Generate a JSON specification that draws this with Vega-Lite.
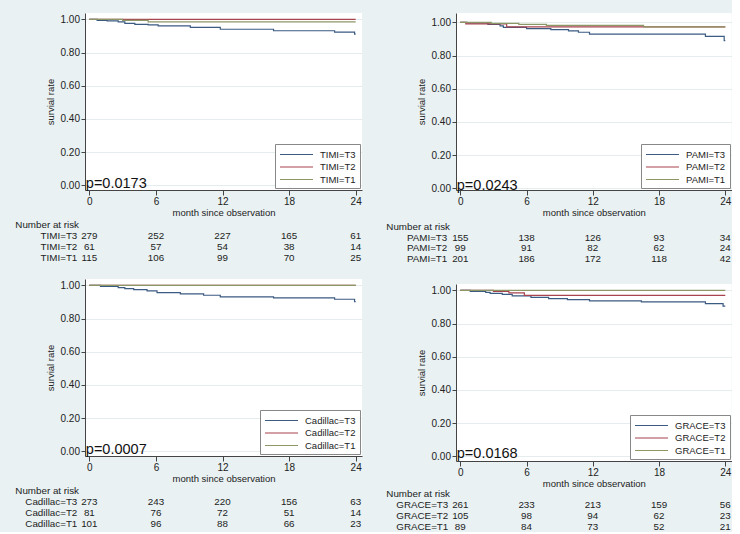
{
  "$schema": "https://vega.github.io/schema/vega-lite/v6.json",
  "background": "#e9f1f2",
  "padding": {"left": 15, "top": 13, "right": 0, "bottom": 0},
  "autosize": {"type": "pad"},
  "datasets": {
    "timi": [
      {"g": "TIMI=T3", "t": 0, "s": 1.0}, {"g": "TIMI=T3", "t": 0.7, "s": 0.994}, {"g": "TIMI=T3", "t": 1.6, "s": 0.99},
      {"g": "TIMI=T3", "t": 2.6, "s": 0.984}, {"g": "TIMI=T3", "t": 3.2, "s": 0.976}, {"g": "TIMI=T3", "t": 4.1, "s": 0.97},
      {"g": "TIMI=T3", "t": 5.3, "s": 0.966}, {"g": "TIMI=T3", "t": 6.2, "s": 0.96}, {"g": "TIMI=T3", "t": 9.1, "s": 0.952},
      {"g": "TIMI=T3", "t": 11.8, "s": 0.94}, {"g": "TIMI=T3", "t": 16.6, "s": 0.931}, {"g": "TIMI=T3", "t": 22.1, "s": 0.923},
      {"g": "TIMI=T3", "t": 23.9, "s": 0.911}, {"g": "TIMI=T3", "t": 24, "s": 0.911},
      {"g": "TIMI=T2", "t": 0, "s": 1.0}, {"g": "TIMI=T2", "t": 24, "s": 1.0},
      {"g": "TIMI=T1", "t": 0, "s": 1.0}, {"g": "TIMI=T1", "t": 3.0, "s": 0.993}, {"g": "TIMI=T1", "t": 5.3, "s": 0.984}, {"g": "TIMI=T1", "t": 24, "s": 0.984}
    ],
    "timi_risk": [
      {"g": "TIMI=T3", "t": 0, "n": 279}, {"g": "TIMI=T3", "t": 6, "n": 252}, {"g": "TIMI=T3", "t": 12, "n": 227}, {"g": "TIMI=T3", "t": 18, "n": 165}, {"g": "TIMI=T3", "t": 24, "n": 61},
      {"g": "TIMI=T2", "t": 0, "n": 61}, {"g": "TIMI=T2", "t": 6, "n": 57}, {"g": "TIMI=T2", "t": 12, "n": 54}, {"g": "TIMI=T2", "t": 18, "n": 38}, {"g": "TIMI=T2", "t": 24, "n": 14},
      {"g": "TIMI=T1", "t": 0, "n": 115}, {"g": "TIMI=T1", "t": 6, "n": 106}, {"g": "TIMI=T1", "t": 12, "n": 99}, {"g": "TIMI=T1", "t": 18, "n": 70}, {"g": "TIMI=T1", "t": 24, "n": 25}
    ],
    "pami": [
      {"g": "PAMI=T3", "t": 0, "s": 1.0}, {"g": "PAMI=T3", "t": 0.6, "s": 0.996}, {"g": "PAMI=T3", "t": 2.5, "s": 0.988},
      {"g": "PAMI=T3", "t": 3.6, "s": 0.978}, {"g": "PAMI=T3", "t": 3.9, "s": 0.97}, {"g": "PAMI=T3", "t": 6.0, "s": 0.962},
      {"g": "PAMI=T3", "t": 8.2, "s": 0.956}, {"g": "PAMI=T3", "t": 9.8, "s": 0.948}, {"g": "PAMI=T3", "t": 10.7, "s": 0.94},
      {"g": "PAMI=T3", "t": 11.7, "s": 0.929}, {"g": "PAMI=T3", "t": 22.2, "s": 0.915}, {"g": "PAMI=T3", "t": 23.9, "s": 0.89},
      {"g": "PAMI=T3", "t": 24, "s": 0.89},
      {"g": "PAMI=T2", "t": 0, "s": 1.0}, {"g": "PAMI=T2", "t": 0.5, "s": 0.99}, {"g": "PAMI=T2", "t": 4.2, "s": 0.973}, {"g": "PAMI=T2", "t": 24, "s": 0.973},
      {"g": "PAMI=T1", "t": 0, "s": 1.0}, {"g": "PAMI=T1", "t": 2.8, "s": 0.993}, {"g": "PAMI=T1", "t": 5.3, "s": 0.987},
      {"g": "PAMI=T1", "t": 7.8, "s": 0.982}, {"g": "PAMI=T1", "t": 16.6, "s": 0.972}, {"g": "PAMI=T1", "t": 24, "s": 0.972}
    ],
    "pami_risk": [
      {"g": "PAMI=T3", "t": 0, "n": 155}, {"g": "PAMI=T3", "t": 6, "n": 138}, {"g": "PAMI=T3", "t": 12, "n": 126}, {"g": "PAMI=T3", "t": 18, "n": 93}, {"g": "PAMI=T3", "t": 24, "n": 34},
      {"g": "PAMI=T2", "t": 0, "n": 99}, {"g": "PAMI=T2", "t": 6, "n": 91}, {"g": "PAMI=T2", "t": 12, "n": 82}, {"g": "PAMI=T2", "t": 18, "n": 62}, {"g": "PAMI=T2", "t": 24, "n": 24},
      {"g": "PAMI=T1", "t": 0, "n": 201}, {"g": "PAMI=T1", "t": 6, "n": 186}, {"g": "PAMI=T1", "t": 12, "n": 172}, {"g": "PAMI=T1", "t": 18, "n": 118}, {"g": "PAMI=T1", "t": 24, "n": 42}
    ],
    "cad": [
      {"g": "Cadillac=T3", "t": 0, "s": 1.0}, {"g": "Cadillac=T3", "t": 1.0, "s": 0.994}, {"g": "Cadillac=T3", "t": 2.6, "s": 0.986},
      {"g": "Cadillac=T3", "t": 3.2, "s": 0.98}, {"g": "Cadillac=T3", "t": 4.0, "s": 0.974}, {"g": "Cadillac=T3", "t": 5.2, "s": 0.966},
      {"g": "Cadillac=T3", "t": 6.1, "s": 0.956}, {"g": "Cadillac=T3", "t": 8.2, "s": 0.948}, {"g": "Cadillac=T3", "t": 10.3, "s": 0.94},
      {"g": "Cadillac=T3", "t": 11.8, "s": 0.93}, {"g": "Cadillac=T3", "t": 16.6, "s": 0.924}, {"g": "Cadillac=T3", "t": 22.1, "s": 0.916},
      {"g": "Cadillac=T3", "t": 23.9, "s": 0.902}, {"g": "Cadillac=T3", "t": 24, "s": 0.902},
      {"g": "Cadillac=T2", "t": 0, "s": 1.0}, {"g": "Cadillac=T2", "t": 24, "s": 1.0},
      {"g": "Cadillac=T1", "t": 0, "s": 1.0}, {"g": "Cadillac=T1", "t": 24, "s": 1.0}
    ],
    "cad_risk": [
      {"g": "Cadillac=T3", "t": 0, "n": 273}, {"g": "Cadillac=T3", "t": 6, "n": 243}, {"g": "Cadillac=T3", "t": 12, "n": 220}, {"g": "Cadillac=T3", "t": 18, "n": 156}, {"g": "Cadillac=T3", "t": 24, "n": 63},
      {"g": "Cadillac=T2", "t": 0, "n": 81}, {"g": "Cadillac=T2", "t": 6, "n": 76}, {"g": "Cadillac=T2", "t": 12, "n": 72}, {"g": "Cadillac=T2", "t": 18, "n": 51}, {"g": "Cadillac=T2", "t": 24, "n": 14},
      {"g": "Cadillac=T1", "t": 0, "n": 101}, {"g": "Cadillac=T1", "t": 6, "n": 96}, {"g": "Cadillac=T1", "t": 12, "n": 88}, {"g": "Cadillac=T1", "t": 18, "n": 66}, {"g": "Cadillac=T1", "t": 24, "n": 23}
    ],
    "grace": [
      {"g": "GRACE=T3", "t": 0, "s": 1.0}, {"g": "GRACE=T3", "t": 0.9, "s": 0.994}, {"g": "GRACE=T3", "t": 2.3, "s": 0.988},
      {"g": "GRACE=T3", "t": 2.7, "s": 0.982}, {"g": "GRACE=T3", "t": 3.8, "s": 0.976}, {"g": "GRACE=T3", "t": 4.7, "s": 0.966},
      {"g": "GRACE=T3", "t": 6.4, "s": 0.958}, {"g": "GRACE=T3", "t": 8.0, "s": 0.95}, {"g": "GRACE=T3", "t": 9.7, "s": 0.944},
      {"g": "GRACE=T3", "t": 11.7, "s": 0.936}, {"g": "GRACE=T3", "t": 16.4, "s": 0.93}, {"g": "GRACE=T3", "t": 22.2, "s": 0.92},
      {"g": "GRACE=T3", "t": 23.8, "s": 0.905}, {"g": "GRACE=T3", "t": 24, "s": 0.905},
      {"g": "GRACE=T2", "t": 0, "s": 1.0}, {"g": "GRACE=T2", "t": 3.0, "s": 0.994}, {"g": "GRACE=T2", "t": 4.4, "s": 0.985},
      {"g": "GRACE=T2", "t": 5.8, "s": 0.97}, {"g": "GRACE=T2", "t": 24, "s": 0.97},
      {"g": "GRACE=T1", "t": 0, "s": 1.0}, {"g": "GRACE=T1", "t": 24, "s": 1.0}
    ],
    "grace_risk": [
      {"g": "GRACE=T3", "t": 0, "n": 261}, {"g": "GRACE=T3", "t": 6, "n": 233}, {"g": "GRACE=T3", "t": 12, "n": 213}, {"g": "GRACE=T3", "t": 18, "n": 159}, {"g": "GRACE=T3", "t": 24, "n": 56},
      {"g": "GRACE=T2", "t": 0, "n": 105}, {"g": "GRACE=T2", "t": 6, "n": 98}, {"g": "GRACE=T2", "t": 12, "n": 94}, {"g": "GRACE=T2", "t": 18, "n": 62}, {"g": "GRACE=T2", "t": 24, "n": 23},
      {"g": "GRACE=T1", "t": 0, "n": 89}, {"g": "GRACE=T1", "t": 6, "n": 84}, {"g": "GRACE=T1", "t": 12, "n": 73}, {"g": "GRACE=T1", "t": 18, "n": 52}, {"g": "GRACE=T1", "t": 24, "n": 21}
    ]
  },
  "hconcat": [
    {
      "vconcat": [
        {
          "width": 277, "height": 177,
          "view": {"fill": "white"},
          "layer": [
            {"data": {"name": "timi"},
             "mark": {"type": "line", "interpolate": "step-after", "strokeWidth": 1.2, "clip": true},
             "encoding": {
               "x": {"field": "t", "type": "quantitative", "scale": {"domain": [-0.39, 24.57], "nice": false, "zero": false}, "axis": {"values": [0, 6, 12, 18, 24], "tickCount": 10, "title": "month since observation"}},
               "y": {"field": "s", "type": "quantitative", "scale": {"domain": [-0.028, 1.038], "nice": false, "zero": false}, "axis": {"values": [0, 0.2, 0.4, 0.6, 0.8, 1], "tickCount": 11, "format": ".2f", "title": "survial rate"}},
               "color": {"field": "g", "type": "nominal", "sort": null, "scale": {"domain": ["TIMI=T3", "TIMI=T2", "TIMI=T1"], "range": ["#3b5b82", "#a8434f", "#8d9665"]}, "legend": {"title": null}}
             }},
            {"data": {"values": [{"p": "p=0.0173"}]},
             "mark": {"type": "text", "align": "left", "baseline": "alphabetic", "dx": -3.5, "dy": 3, "fontSize": 14.5, "color": "#111"},
             "encoding": {"x": {"datum": 0}, "y": {"datum": 0}, "text": {"field": "p"}}}
          ]
        },
        {
          "width": 277, "height": 68.5,
          "layer": [
            {"data": {"name": "timi_risk"},
             "mark": {"type": "text", "align": "center", "baseline": "middle"},
             "encoding": {
               "x": {"field": "t", "type": "quantitative", "scale": {"domain": [-0.39, 24.57], "nice": false, "zero": false}, "axis": null},
               "y": {"field": "g", "type": "nominal", "scale": {"type": "point", "padding": 0, "domain": ["Number at risk", "TIMI=T3", "TIMI=T2", "TIMI=T1"], "range": [25, 58]}, "axis": null},
               "text": {"field": "n"}}},
            {"data": {"name": "timi_risk"}, "transform": [{"filter": "datum.t == 0"}],
             "mark": {"type": "text", "align": "right", "baseline": "middle", "dx": -12},
             "encoding": {"x": {"datum": 0}, "y": {"field": "g", "type": "nominal"}, "text": {"field": "g"}}},
            {"data": {"values": [{"g": "Number at risk"}]},
             "mark": {"type": "text", "align": "left", "baseline": "middle", "dx": -74},
             "encoding": {"x": {"datum": 0}, "y": {"field": "g", "type": "nominal"}, "text": {"field": "g"}}}
          ]
        },
        {
          "width": 277, "height": 177,
          "view": {"fill": "white"},
          "layer": [
            {"data": {"name": "cad"},
             "mark": {"type": "line", "interpolate": "step-after", "strokeWidth": 1.2, "clip": true},
             "encoding": {
               "x": {"field": "t", "type": "quantitative", "scale": {"domain": [-0.39, 24.57], "nice": false, "zero": false}, "axis": {"values": [0, 6, 12, 18, 24], "tickCount": 10, "title": "month since observation"}},
               "y": {"field": "s", "type": "quantitative", "scale": {"domain": [-0.028, 1.038], "nice": false, "zero": false}, "axis": {"values": [0, 0.2, 0.4, 0.6, 0.8, 1], "tickCount": 11, "format": ".2f", "title": "survial rate"}},
               "color": {"field": "g", "type": "nominal", "sort": null, "scale": {"domain": ["Cadillac=T3", "Cadillac=T2", "Cadillac=T1"], "range": ["#3b5b82", "#a8434f", "#8d9665"]}, "legend": {"title": null}}
             }},
            {"data": {"values": [{"p": "p=0.0007"}]},
             "mark": {"type": "text", "align": "left", "baseline": "alphabetic", "dx": -3.5, "dy": 2.5, "fontSize": 14.5, "color": "#111"},
             "encoding": {"x": {"datum": 0}, "y": {"datum": 0}, "text": {"field": "p"}}}
          ]
        },
        {
          "width": 277, "height": 60,
          "layer": [
            {"data": {"name": "cad_risk"},
             "mark": {"type": "text", "align": "center", "baseline": "middle"},
             "encoding": {
               "x": {"field": "t", "type": "quantitative", "scale": {"domain": [-0.39, 24.57], "nice": false, "zero": false}, "axis": null},
               "y": {"field": "g", "type": "nominal", "scale": {"type": "point", "padding": 0, "domain": ["Number at risk", "Cadillac=T3", "Cadillac=T2", "Cadillac=T1"], "range": [25, 58]}, "axis": null},
               "text": {"field": "n"}}},
            {"data": {"name": "cad_risk"}, "transform": [{"filter": "datum.t == 0"}],
             "mark": {"type": "text", "align": "right", "baseline": "middle", "dx": -12},
             "encoding": {"x": {"datum": 0}, "y": {"field": "g", "type": "nominal"}, "text": {"field": "g"}}},
            {"data": {"values": [{"g": "Number at risk"}]},
             "mark": {"type": "text", "align": "left", "baseline": "middle", "dx": -74},
             "encoding": {"x": {"datum": 0}, "y": {"field": "g", "type": "nominal"}, "text": {"field": "g"}}}
          ]
        }
      ],
      "spacing": 10,
      "bounds": "flush",
      "resolve": {"scale": {"color": "independent"}, "legend": {"color": "independent"}}
    },
    {
      "vconcat": [
        {
          "width": 275.7, "height": 177,
          "view": {"fill": "white"},
          "layer": [
            {"data": {"name": "pami"},
             "mark": {"type": "line", "interpolate": "step-after", "strokeWidth": 1.2, "clip": true},
             "encoding": {
               "x": {"field": "t", "type": "quantitative", "scale": {"domain": [-0.39, 24.58], "nice": false, "zero": false}, "axis": {"values": [0, 6, 12, 18, 24], "tickCount": 10, "title": "month since observation"}},
               "y": {"field": "s", "type": "quantitative", "scale": {"domain": [-0.01, 1.056], "nice": false, "zero": false}, "axis": {"values": [0, 0.2, 0.4, 0.6, 0.8, 1], "tickCount": 11, "format": ".2f", "title": "survial rate"}},
               "color": {"field": "g", "type": "nominal", "sort": null, "scale": {"domain": ["PAMI=T3", "PAMI=T2", "PAMI=T1"], "range": ["#3b5b82", "#a8434f", "#8d9665"]}, "legend": {"title": null}}
             }},
            {"data": {"values": [{"p": "p=0.0243"}]},
             "mark": {"type": "text", "align": "left", "baseline": "alphabetic", "dx": -3.5, "dy": 2, "fontSize": 14.5, "color": "#111"},
             "encoding": {"x": {"datum": 0}, "y": {"datum": 0}, "text": {"field": "p"}}}
          ]
        },
        {
          "width": 275.7, "height": 73.7,
          "layer": [
            {"data": {"name": "pami_risk"},
             "mark": {"type": "text", "align": "center", "baseline": "middle"},
             "encoding": {
               "x": {"field": "t", "type": "quantitative", "scale": {"domain": [-0.39, 24.58], "nice": false, "zero": false}, "axis": null},
               "y": {"field": "g", "type": "nominal", "scale": {"type": "point", "padding": 0, "domain": ["Number at risk", "PAMI=T3", "PAMI=T2", "PAMI=T1"], "range": [27, 59]}, "axis": null},
               "text": {"field": "n"}}},
            {"data": {"name": "pami_risk"}, "transform": [{"filter": "datum.t == 0"}],
             "mark": {"type": "text", "align": "right", "baseline": "middle", "dx": -13},
             "encoding": {"x": {"datum": 0}, "y": {"field": "g", "type": "nominal"}, "text": {"field": "g"}}},
            {"data": {"values": [{"g": "Number at risk"}]},
             "mark": {"type": "text", "align": "left", "baseline": "middle", "dx": -74},
             "encoding": {"x": {"datum": 0}, "y": {"field": "g", "type": "nominal"}, "text": {"field": "g"}}}
          ]
        },
        {
          "width": 275.7, "height": 177,
          "view": {"fill": "white"},
          "layer": [
            {"data": {"name": "grace"},
             "mark": {"type": "line", "interpolate": "step-after", "strokeWidth": 1.2, "clip": true},
             "encoding": {
               "x": {"field": "t", "type": "quantitative", "scale": {"domain": [-0.39, 24.58], "nice": false, "zero": false}, "axis": {"values": [0, 6, 12, 18, 24], "tickCount": 10, "title": "month since observation"}},
               "y": {"field": "s", "type": "quantitative", "scale": {"domain": [-0.028, 1.038], "nice": false, "zero": false}, "axis": {"values": [0, 0.2, 0.4, 0.6, 0.8, 1], "tickCount": 11, "format": ".2f", "title": "survial rate"}},
               "color": {"field": "g", "type": "nominal", "sort": null, "scale": {"domain": ["GRACE=T3", "GRACE=T2", "GRACE=T1"], "range": ["#3b5b82", "#a8434f", "#8d9665"]}, "legend": {"title": null}}
             }},
            {"data": {"values": [{"p": "p=0.0168"}]},
             "mark": {"type": "text", "align": "left", "baseline": "alphabetic", "dx": -3.5, "dy": 2, "fontSize": 14.5, "color": "#111"},
             "encoding": {"x": {"datum": 0}, "y": {"datum": 0}, "text": {"field": "p"}}}
          ]
        },
        {
          "width": 275.7, "height": 60,
          "layer": [
            {"data": {"name": "grace_risk"},
             "mark": {"type": "text", "align": "center", "baseline": "middle"},
             "encoding": {
               "x": {"field": "t", "type": "quantitative", "scale": {"domain": [-0.39, 24.58], "nice": false, "zero": false}, "axis": null},
               "y": {"field": "g", "type": "nominal", "scale": {"type": "point", "padding": 0, "domain": ["Number at risk", "GRACE=T3", "GRACE=T2", "GRACE=T1"], "range": [23, 56]}, "axis": null},
               "text": {"field": "n"}}},
            {"data": {"name": "grace_risk"}, "transform": [{"filter": "datum.t == 0"}],
             "mark": {"type": "text", "align": "right", "baseline": "middle", "dx": -12},
             "encoding": {"x": {"datum": 0}, "y": {"field": "g", "type": "nominal"}, "text": {"field": "g"}}},
            {"data": {"values": [{"g": "Number at risk"}]},
             "mark": {"type": "text", "align": "left", "baseline": "middle", "dx": -74},
             "encoding": {"x": {"datum": 0}, "y": {"field": "g", "type": "nominal"}, "text": {"field": "g"}}}
          ]
        }
      ],
      "spacing": 10,
      "bounds": "flush",
      "resolve": {"scale": {"color": "independent"}, "legend": {"color": "independent"}}
    }
  ],
  "spacing": 24,
  "bounds": "full",
  "resolve": {"scale": {"color": "independent"}, "legend": {"color": "independent"}},
  "config": {
    "font": "Liberation Sans",
    "view": {"stroke": null},
    "axis": {
      "labelFont": "Liberation Sans", "titleFont": "Liberation Sans",
      "labelFontSize": 10, "titleFontSize": 9.5, "titleFontWeight": "normal",
      "labelColor": "#222", "titleColor": "#222", "domainColor": "#444", "tickColor": "#444",
      "tickSize": 4, "labelPadding": 1.5, "labelOverlap": false
    },
    "axisX": {"grid": false, "titlePadding": 0.5, "tickSize": 5},
    "axisY": {"grid": true, "gridColor": "#e4ecee", "titlePadding": 5},
    "legend": {
      "orient": "bottom-right", "offset": 2,
      "strokeColor": "#888", "fillColor": "white", "padding": 4, "cornerRadius": 0,
      "labelFont": "Liberation Sans", "labelFontSize": 9.5, "labelColor": "#222",
      "symbolType": "M-1,0H5", "symbolSize": 121, "symbolStrokeWidth": 1.2, "labelOffset": 28, "rowPadding": 1.5
    },
    "text": {"font": "Liberation Sans", "fontSize": 9.8, "color": "#222"}
  }
}
